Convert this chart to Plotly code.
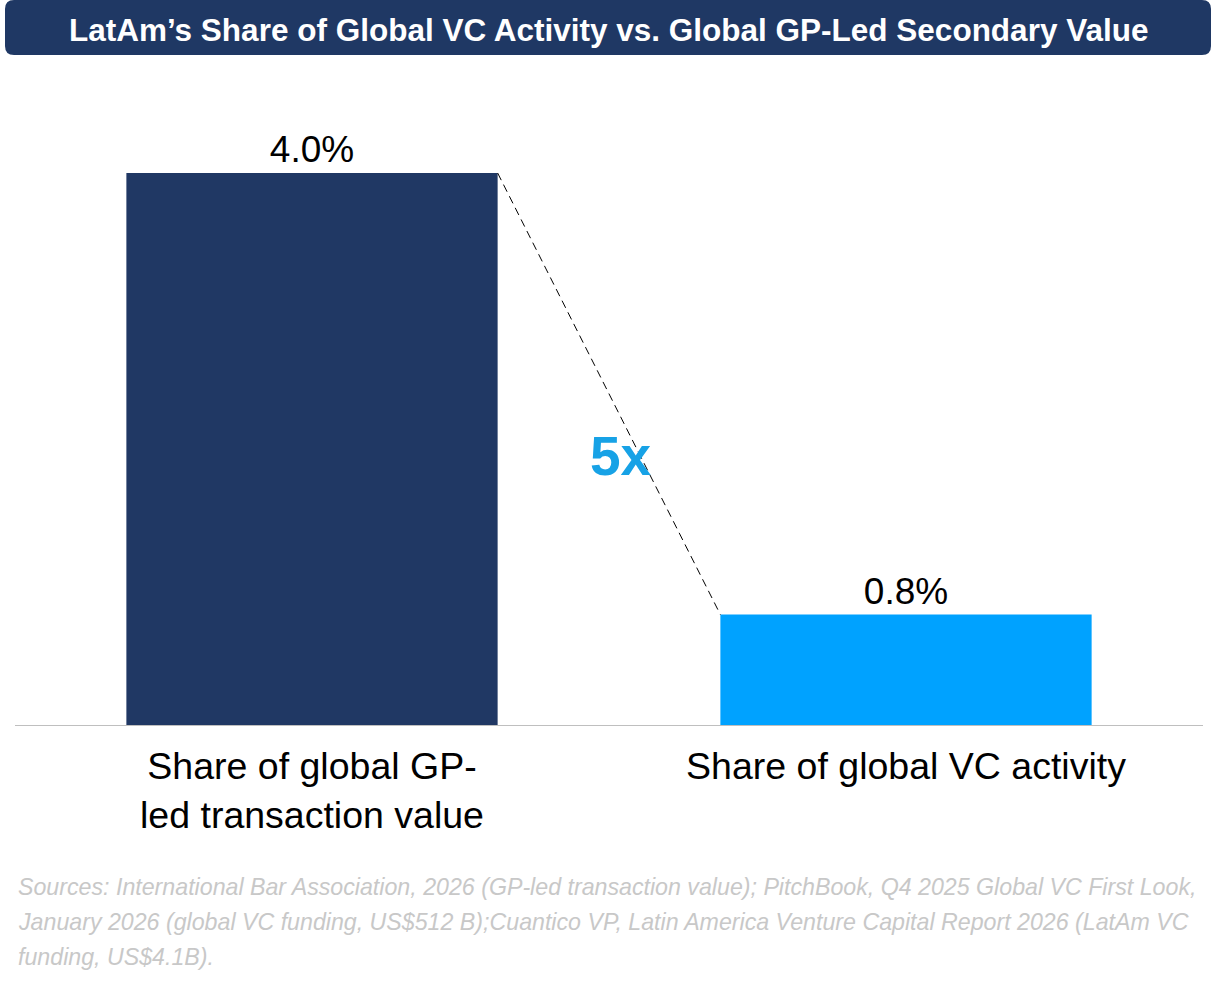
import plotly.graph_objects as go

# data
categories = ["Share of global GP-<br>led transaction value", "Share of global VC activity"]
shares = [4.0, 0.8]
share_labels = ["4.0%", "0.8%"]
bar_colors = ["#203864", "#00a2ff"]
multiple_label = "5x"

title = "LatAm’s Share of Global VC Activity vs. Global GP-Led Secondary Value"
source_lines = [
    "Sources: International Bar Association, 2026 (GP-led transaction value); PitchBook, Q4 2025 Global VC First Look,",
    "January 2026 (global VC funding, US$512 B);Cuantico VP, Latin America Venture Capital Report 2026 (LatAm VC",
    "funding, US$4.1B).",
]

W, H = 1219, 985
L, R, T, B = 15, 16, 100, 260
plot_w = W - L - R
plot_h = H - T - B
bar_w = 0.625


def px_to_paper(px, py):
    return (px - L) / plot_w, (H - B - py) / plot_h


fig = go.Figure()
fig.add_trace(go.Bar(
    x=categories,
    y=shares,
    width=bar_w,
    marker=dict(color=bar_colors, line=dict(width=0)),
    text=share_labels,
    textposition="outside",
    textfont=dict(family="Liberation Sans, Arial", size=37, color="#000000"),
    cliponaxis=False,
    hoverinfo="skip",
))

# dashed connector between the bar tops
fig.add_shape(
    type="line", xref="x", yref="y",
    x0=0 + bar_w / 2, y0=shares[0], x1=1 - bar_w / 2, y1=shares[1],
    line=dict(color="#000000", width=1, dash="8px,5px"),
)
fig.add_annotation(
    x=0.52, y=1.95, xref="x", yref="y", text=f"<b>{multiple_label}</b>",
    showarrow=False, font=dict(family="Liberation Sans, Arial", size=55, color="#17a2e6"),
)

# title banner (rounded rect)
x0, y0 = px_to_paper(5, 55)
x1, y1 = px_to_paper(1211, 0)
rx, ry = 9 / plot_w, 9 / plot_h
path = (
    f"M {x0 + rx},{y0} L {x1 - rx},{y0} Q {x1},{y0} {x1},{y0 + ry} "
    f"L {x1},{y1 - ry} Q {x1},{y1} {x1 - rx},{y1} "
    f"L {x0 + rx},{y1} Q {x0},{y1} {x0},{y1 - ry} "
    f"L {x0},{y0 + ry} Q {x0},{y0} {x0 + rx},{y0} Z"
)
fig.add_shape(type="path", xref="paper", yref="paper", path=path,
              fillcolor="#1f3864", line=dict(width=0), layer="above")
tx, ty = px_to_paper(608, 30)
fig.add_annotation(
    x=tx, y=ty, xref="paper", yref="paper", text=f"<b>{title}</b>",
    showarrow=False, xanchor="center", yanchor="middle",
    font=dict(family="Liberation Sans, Arial", size=31.5, color="#ffffff"),
)

# sources
for i, line in enumerate(source_lines):
    sx, sy = px_to_paper(16, 887 + 35 * i)
    fig.add_annotation(
        x=sx, y=sy, xref="paper", yref="paper", text=f"<i>{line}</i>",
        showarrow=False, xanchor="left", yanchor="middle", align="left",
        font=dict(family="Liberation Sans, Arial", size=23.2, color="#c8c8c8"),
    )

fig.update_layout(
    width=W, height=H,
    margin=dict(l=L, r=R, t=T, b=B),
    paper_bgcolor="#ffffff", plot_bgcolor="#ffffff",
    showlegend=False,
    xaxis=dict(
        type="category", showline=True, linecolor="#bfbfbf", linewidth=1,
        ticks="", showgrid=False, zeroline=False, ticklabelstandoff=8,
        tickfont=dict(family="Liberation Sans, Arial", size=37.5, color="#000000"),
    ),
    yaxis=dict(range=[0, (H - B - T) / 138], visible=False, showgrid=False, zeroline=False),
)

# drop the browser's default page margin so the figure sits at the window corner
fig.write_html(
    "out.html",
    config={"displayModeBar": False},
    post_script="document.body.style.margin='0';",
)
